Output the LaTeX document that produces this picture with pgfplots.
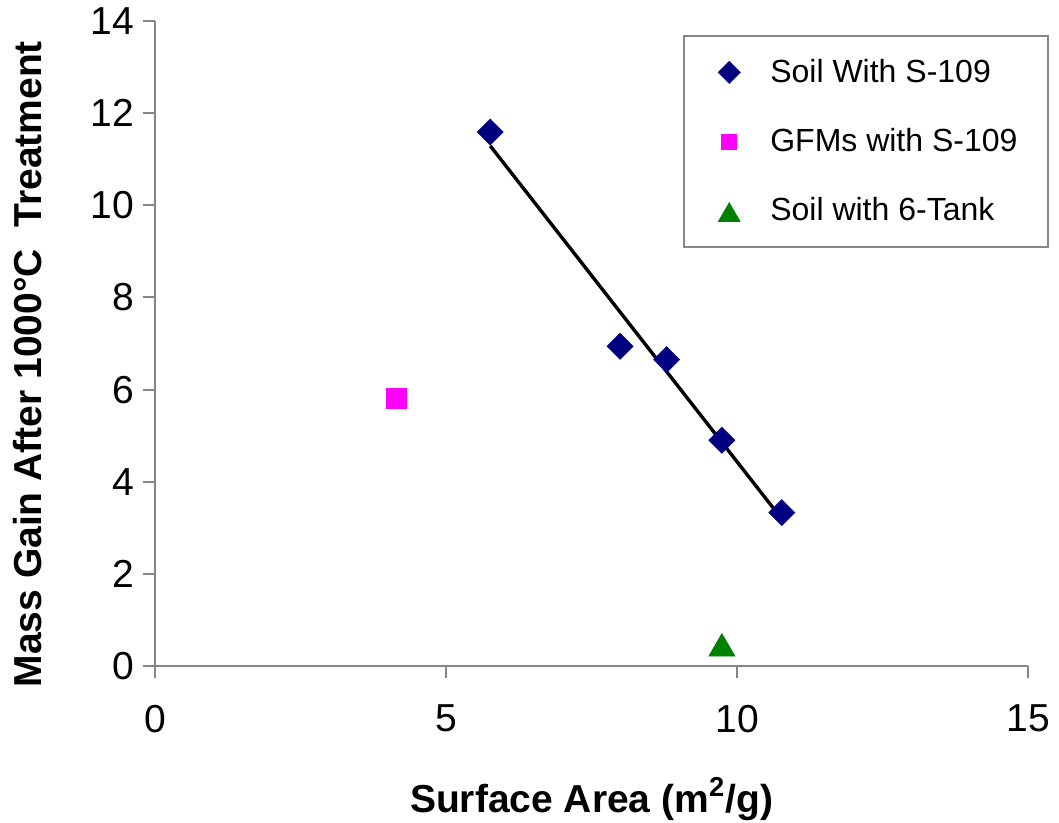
\documentclass[border=0pt]{standalone}
\usepackage{fontspec}
\setmainfont{Liberation Sans}
\usepackage{pgfplots}
\pgfplotsset{compat=1.18}
\definecolor{soilnavy}{RGB}{0,0,128}
\definecolor{gfmpink}{RGB}{255,0,255}
\definecolor{tankgreen}{RGB}{0,128,0}
\definecolor{axgray}{RGB}{134,134,134}
\pgfplotsset{
  legmark/.style 2 args={legend image code/.code={\path (0cm,0cm) (0.6cm,0cm);
    \draw[##1, mark size=#1] plot coordinates {(0.3cm,#2)};}},
}
\begin{document}
\begin{tikzpicture}
\begin{axis}[
width=436.5pt, height=322.5pt, scale only axis,
xmin=0, xmax=15, ymin=0, ymax=14,
xtick={0,5,10,15}, ytick={0,2,4,6,8,10,12,14},
axis x line*=bottom, axis y line*=left,
axis line style={draw=axgray, line width=1pt, -},
tick style={draw=axgray, line width=1pt},
tick align=outside, major tick length=6pt,
/pgf/number format/assume math mode=true,
ticklabel style={font=\fontsize{19.5}{22}\selectfont},
xticklabel style={yshift=-10pt},
yticklabel style={xshift=-1pt},
xlabel={Surface Area (m\textsuperscript{2}/g)},
ylabel={Mass Gain After 1000°C\ \ Treatment},
label style={font=\fontsize{19.5}{22}\selectfont\bfseries},
xlabel style={at={(axis description cs:0.5,-0.2264)}, anchor=base},
ylabel style={at={(axis description cs:-0.1455,0.468)}, anchor=center},
legend cell align=left,
legend style={at={(axis description cs:0.605,0.978)}, anchor=north west,
  draw=axgray, line width=1pt, fill=white,
  font=\fontsize{16}{19}\selectfont,
  inner xsep=13.5pt, inner ysep=9.5pt, row sep=17.5pt,
  /tikz/every odd column/.append style={column sep=9.5pt}},
]
\addplot[only marks, mark=square*, mark size=4.6pt,
  mark options={rotate=45, fill=soilnavy, draw=soilnavy, line width=0.3pt},
  legmark={3.9pt}{0cm}]
  coordinates {(5.76,11.59) (7.99,6.94) (8.79,6.65) (9.74,4.90) (10.77,3.33)};
\addlegendentry{Soil With S-109}
\addplot[only marks, mark=square*, mark size=5pt,
  mark options={fill=gfmpink, draw=gfmpink, line width=0.3pt},
  legmark={3.75pt}{0cm}]
  coordinates {(4.14,5.81)};
\addlegendentry{GFMs with S-109}
\addplot[only marks, mark=triangle*, mark size=7.5pt,
  mark options={fill=tankgreen, draw=tankgreen, line width=0.3pt},
  legmark={6.3pt}{-0.08cm}]
  coordinates {(9.74,0.38)};
\addlegendentry{Soil with 6-Tank}
\addplot[black, line width=1.7pt, forget plot] coordinates {(5.76,11.29) (10.77,3.19)};
\coordinate (bbl) at (axis description cs:-0.1776,-0.2419);
\coordinate (btr) at (axis description cs:1.0355,1.0326);
\end{axis}
\pgfresetboundingbox
\path[use as bounding box] (bbl) rectangle (btr);
\end{tikzpicture}
\end{document}
